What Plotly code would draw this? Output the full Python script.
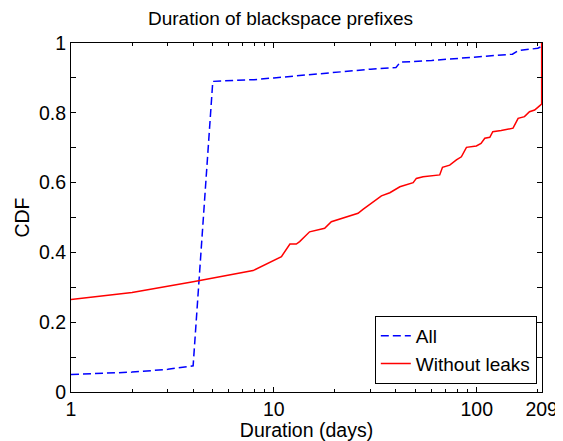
import plotly.graph_objects as go

all_x = [1, 2, 3, 4, 5, 8, 10, 15, 20, 30, 40, 42, 60, 80, 100, 150, 160, 200, 209, 209]
all_y = [0.05, 0.057, 0.065, 0.075, 0.89, 0.895, 0.9, 0.91, 0.915, 0.925, 0.93, 0.945,
         0.95, 0.955, 0.96, 0.968, 0.978, 0.985, 0.99, 1.0]

nl_x = [1, 2, 4, 6, 7.9, 10.9, 12, 12.9, 13.4, 15, 17.8, 19.2, 26, 27.5, 33.9, 37.3, 41.8,
        48.6, 50.4, 54.4, 65.7, 67.8, 73.6, 79.4, 84, 89, 99.6, 105, 109.6, 116, 120, 132,
        151, 160, 172, 182, 193, 204, 209, 209]
nl_y = [0.265, 0.285, 0.316, 0.335, 0.348, 0.388, 0.424, 0.424, 0.431, 0.459, 0.469, 0.488,
        0.512, 0.523, 0.562, 0.571, 0.588, 0.6, 0.612, 0.617, 0.622, 0.644, 0.65, 0.665,
        0.674, 0.701, 0.705, 0.712, 0.727, 0.73, 0.746, 0.749, 0.756, 0.784, 0.789, 0.803,
        0.808, 0.82, 0.825, 1.0]

x_ticks = [1, 10, 100, 209]
x_minor = [2, 3, 4, 5, 6, 7, 8, 9, 20, 30, 40, 50, 60, 70, 80, 90, 200]
y_ticks = [0, 0.2, 0.4, 0.6, 0.8, 1]

font = "Liberation Sans, Arial, sans-serif"

fig = go.Figure()
fig.add_trace(go.Scatter(x=all_x, y=all_y, mode="lines", name="All",
                         line=dict(color="#0000ff", width=1.5, dash="8px,4px")))
fig.add_trace(go.Scatter(x=nl_x, y=nl_y, mode="lines", name="Without leaks",
                         line=dict(color="#ff0000", width=1.5)))

# page body has an 8px margin, so the figure is sized to fit the remaining window
fig.update_layout(
    width=555, height=433,
    margin=dict(l=63, r=21, t=35, b=49, autoexpand=False),
    paper_bgcolor="white", plot_bgcolor="white",
    font=dict(family=font, size=20, color="black"),
    title=dict(text="Duration of blackspace prefixes", x=0.491, xanchor="center",
               y=0.977, yanchor="middle", font=dict(size=19)),
    showlegend=True,
    legend=dict(x=0.989, y=0.023, xanchor="right", yanchor="bottom",
                bordercolor="black", borderwidth=1, bgcolor="white",
                font=dict(size=19), tracegroupgap=0, itemwidth=30),
)
fig.update_xaxes(type="log", range=[0, 2.3218], tickvals=x_ticks,
                 ticktext=[str(v) for v in x_ticks], automargin=False,
                 ticks="inside", ticklen=5, tickcolor="black", tickfont=dict(size=19.5),
                 showline=True, linecolor="black", linewidth=1, mirror="allticks",
                 showgrid=False, zeroline=False,
                 minor=dict(tickvals=x_minor, ticks="inside", ticklen=3, tickcolor="black", showgrid=False),
                 title=dict(text="Duration (days)", standoff=0, font=dict(size=19.5)))
fig.update_yaxes(range=[0, 1], tickvals=y_ticks, ticktext=["0", "0.2", "0.4", "0.6", "0.8", "1"],
                 automargin=False,
                 ticks="inside", ticklen=5, tickcolor="black", tickfont=dict(size=19.5),
                 showline=True, linecolor="black", linewidth=1, mirror="allticks",
                 showgrid=False, zeroline=False,
                 minor=dict(dtick=0.1, ticks="inside", ticklen=5, tickcolor="black", showgrid=False),
                 title=dict(text="CDF", standoff=4, font=dict(size=19.5)))

fig.write_html("out.html")
